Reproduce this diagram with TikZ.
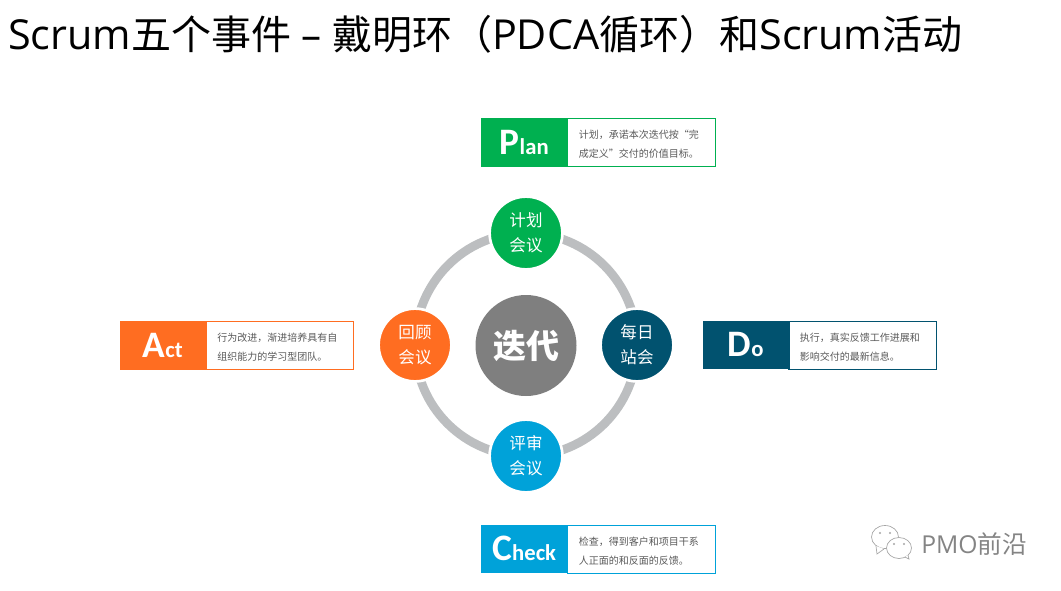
\documentclass[tikz,border=0pt]{standalone}
\usepackage{fontspec}
\setmainfont{Noto Sans CJK SC}
\newfontfamily\latinfont{Open Sans}
\newfontfamily\wordfont{Carlito}
\usepackage{xcolor}
\usetikzlibrary{backgrounds}

\definecolor{plancolor}{RGB}{0,176,80}
\definecolor{docolor}{RGB}{1,82,111}
\definecolor{checkcolor}{RGB}{0,162,217}
\definecolor{actcolor}{RGB}{255,109,33}
\definecolor{iterationcolor}{RGB}{127,127,127}
\definecolor{ringcolor}{RGB}{188,190,192}
\definecolor{notecolor}{RGB}{89,89,89}
\definecolor{markcolor}{RGB}{165,165,165}

\tikzset{
  meeting/.style={circle,fill=#1,draw=white,line width=2pt,minimum size=72.8*0.75pt,inner sep=0pt,text=white,align=center,font=\fontsize{12.4}{18.75}\selectfont},
  ringarc/.style={draw=ringcolor,line width=6.6pt},
  head/.style={fill=#1,draw=#1,line width=0.4pt,anchor=north west,minimum width=86*0.75pt,minimum height=47.5*0.75pt,inner sep=0pt,text=white},
  note/.style={anchor=north west,minimum width=147*0.75pt,minimum height=47.5*0.75pt,inner ysep=0pt,inner xsep=11*0.75pt,text width=125*0.75pt,align=left,text=notecolor,font=\fontsize{7.5}{14.25}\selectfont,execute at begin node=\rule{0pt}{9.5pt}},
  noteline/.style={draw=#1,line width=0.6pt},
  bubble/.style={draw=markcolor,fill=white,line width=0.5pt},
}
\newcommand{\headword}[2]{{\wordfont\bfseries\fontsize{28}{28}\selectfont #1\fontsize{17}{28}\selectfont #2}}

\begin{document}
\begin{tikzpicture}[x=0.75pt,y=0.75pt,yscale=-1,xscale=1]
\useasboundingbox (0,0) rectangle (1061,590);

%Shape: Circle
\draw (526,233) node (meetplan) [meeting=plancolor] {计划\\会议};
\draw (637,345) node (meetdo) [meeting=docolor] {每日\\站会};
\draw (526,456) node (meetcheck) [meeting=checkcolor] {评审\\会议};
\draw (415,345) node (meetact) [meeting=actcolor] {回顾\\会议};
\draw (526,345.5) node (iteration) [circle,fill=iterationcolor,minimum size=101*0.75pt,inner sep=0pt,text=white,font=\fontsize{24.75}{30}\selectfont\bfseries] {迭代};

%Shape: Arc
\begin{scope}[on background layer]
\draw [ringarc] (meetplan.center) to [out=0,in=-90] (meetdo.center);
\draw [ringarc] (meetdo.center) to [out=90,in=0] (meetcheck.center);
\draw [ringarc] (meetcheck.center) to [out=180,in=90] (meetact.center);
\draw [ringarc] (meetact.center) to [out=-90,in=180] (meetplan.center);
\end{scope}

%Shape: Rectangle
\draw (567.5,118.5) node (plannote) [note] {计划，承诺本次迭代按“完\\成定义”交付的价值目标。};
\draw [noteline=plancolor] (plannote.north west) rectangle (plannote.south east);
\draw (481,118) node (planhead) [head=plancolor] {\headword{P}{lan}};
\draw (788.5,321) node (donote) [note] {执行，真实反馈工作进展和\\影响交付的最新信息。};
\draw [noteline=docolor] (donote.north west) rectangle (donote.south east);
\draw (702.5,320.5) node (dohead) [head=docolor] {\headword{D}{o}};
\draw (567.5,525) node (checknote) [note] {检查，得到客户和项目干系\\人正面的和反面的反馈。};
\draw [noteline=checkcolor] (checknote.north west) rectangle (checknote.south east);
\draw (481,524.5) node (checkhead) [head=checkcolor] {\headword{C}{heck}};
\draw (206,321.5) node (actnote) [note] {行为改进，渐进培养具有自\\组织能力的学习型团队。};
\draw [noteline=actcolor] (actnote.north west) rectangle (actnote.south east);
\draw (119.5,321) node (acthead) [head=actcolor] {\headword{A}{ct}};

%Shape: Ellipse
\draw [bubble] (885,537) ellipse [x radius=13.5, y radius=11.5];
\draw [bubble] (876,546) -- (877,554) -- (884,549);
\fill [markcolor] (880,533) circle [radius=1.2] (890,533) circle [radius=1.2];
\draw [bubble] (899,548) ellipse [x radius=12.5, y radius=10.5];
\draw [bubble] (905,557) -- (909,559) -- (908,555);
\fill [markcolor] (894,544) circle [radius=1.2] (904,544) circle [radius=1.2];

% Text Node
\draw (8,34) node (title) [anchor=west,inner sep=0pt,font=\fontsize{30}{36}\selectfont] {{\latinfont\fontsize{31}{36}\selectfont Scrum}五个事件{\latinfont\ –\ }戴明环（{\latinfont\fontsize{31}{36}\selectfont PDCA}循环）和{\latinfont\fontsize{31}{36}\selectfont Scrum}活动};
% Text Node
\draw (921,544) node (mark) [anchor=west,inner sep=0pt,text=markcolor!80!black,font=\fontsize{18.5}{20}\selectfont] {{\latinfont PMO}前沿};

\end{tikzpicture}
\end{document}
